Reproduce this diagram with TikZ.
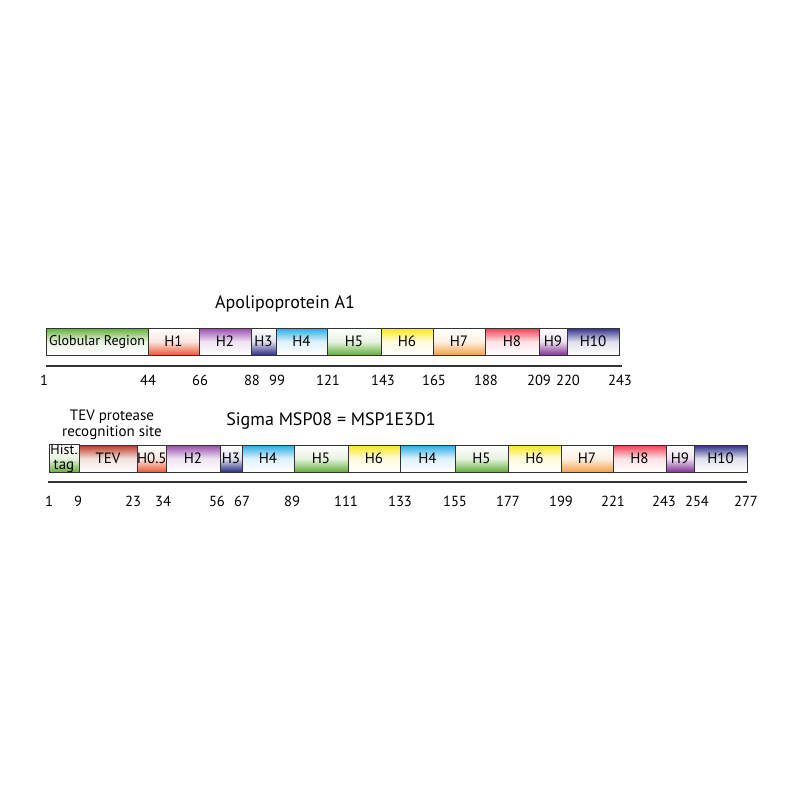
\documentclass[tikz,border=0pt]{standalone}
\usepackage{fontspec}
\setmainfont{PT Sans}
\usepackage{tikz}
\usepackage{xcolor}

\definecolor{cgreen}{RGB}{100,175,55}
\definecolor{cred}{RGB}{235,90,55}
\definecolor{cpurple}{RGB}{150,75,170}
\definecolor{cnavy}{RGB}{45,45,135}
\definecolor{ccyan}{RGB}{40,170,230}
\definecolor{cyellow}{RGB}{250,230,30}
\definecolor{corange}{RGB}{245,160,70}
\definecolor{cpink}{RGB}{240,60,80}
\definecolor{cviolet}{RGB}{130,50,150}
\definecolor{ctev}{RGB}{185,55,35}
\definecolor{cline}{RGB}{50,50,50}

\tikzset{
    seg/.style = {draw = cline, line width = 0.5pt, anchor = west, inner sep = 0pt, outer sep = 0pt,
        minimum height = 13.5pt, font = \fontsize{7.5}{7.5}\selectfont, align = center},
    fadet/.style = {top color = #1, bottom color = white, middle color = #1!15!white},
    fadeb/.style = {bottom color = #1, top color = white, middle color = #1!15!white},
    num/.style = {font = \fontsize{7.3}{7.3}\selectfont, inner sep = 0pt}
}

\begin{document}
\begin{tikzpicture}[x = 0.5pt, y = -0.5pt]
        \useasboundingbox (0, 0) rectangle (800, 800);
        \fill[white] (0, 0) rectangle (800, 800);

        \node[font = \fontsize{9}{9}\selectfont] (apo) at (285, 304) {Apolipoprotein A1};
        \foreach \s/\e/\lab/\c/\d [count = \i] in {46/148/{\fontsize{7}{7}\selectfont Globular Region}/cgreen/t, 148/199/H1/cred/b,
                199/251/H2/cpurple/t, 251/276/H3/cnavy/b, 276/327/H4/ccyan/t, 327/381/H5/cgreen/b,
                381/433/H6/cyellow/t, 433/485/H7/corange/b, 485/539/H8/cpink/t, 539/567/H9/cviolet/b,
                567/619/H10/cnavy/t} {
            \pgfmathsetmacro\w{(\e - \s) * 0.5}
            \node[seg, fade\d = \c, minimum width = \w pt] (apo\i) at (\s, 341.5) {\lab};
        }
        \draw[cline, line width = 0.6pt] (46, 366) -- (622, 366);
        \foreach \x/\n [count = \i] in {44/1, 148/44, 200/66, 252/88, 277/99, 328/121, 383/143,
                434/165, 486/188, 539/209, 568/220, 620/243}
            \node[num] (apon\i) at (\x, 380) {\n};

        \node[font = \fontsize{9}{9}\selectfont] (msp) at (331, 421) {Sigma MSP08 = MSP1E3D1};
        \node[font = \fontsize{7.5}{6.8}\selectfont, align = center] (tev) at (112, 425) {TEV protease\\recognition site};
        \foreach \s/\e/\lab/\c/\d [count = \i] in {49/79/{\fontsize{7}{6}\selectfont Hist.\\tag}/cgreen/b, 79/137/TEV/ctev/t,
                137/166/H0.5/cred/b, 166/220/H2/cpurple/t, 220/242/H3/cnavy/b, 242/294/H4/ccyan/t,
                294/348/H5/cgreen/b, 348/400/H6/cyellow/t, 400/455/H4/ccyan/t, 455/508/H5/cgreen/b,
                508/561/H6/cyellow/t, 561/613/H7/corange/b, 613/666/H8/cpink/t, 666/694/H9/cviolet/b,
                694/747/H10/cnavy/t} {
            \pgfmathsetmacro\w{(\e - \s) * 0.5}
            \node[seg, fade\d = \c, minimum width = \w pt] (msp\i) at (\s, 458.5) {\lab};
        }
        \draw[cline, line width = 0.6pt] (48, 482) -- (747, 482);
        \foreach \x/\n [count = \i] in {49/1, 78/9, 133/23, 163/34, 217/56, 242/67, 292/89, 346/111,
                400/133, 455/155, 508/177, 561/199, 613/221, 664/243, 697/254, 746/277}
            \node[num] (mspn\i) at (\x, 501) {\n};
    \end{tikzpicture}
\end{document}
